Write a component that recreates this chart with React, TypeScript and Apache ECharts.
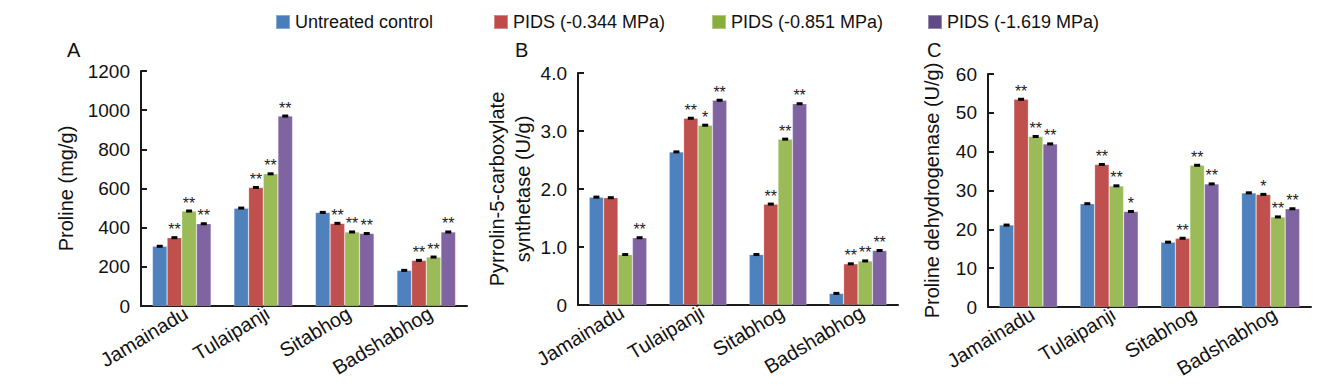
import React, { useEffect, useRef } from "react";
import * as echarts from "echarts";

const categories = ["Jamainadu", "Tulaipanji", "Sitabhog", "Badshabhog"];
const seriesNames = ["Untreated control", "PIDS (-0.344 MPa)", "PIDS (-0.851 MPa)", "PIDS (-1.619 MPa)"];
const colors = ["#4F81BD", "#C0504D", "#9BBB59", "#8064A2"];
const legendColors = ["#4A7EBB", "#BE4B48", "#8AAE3C", "#5F4A86"];

// Panel A: Proline (mg/g)
const prolineControl = [305, 500, 478, 182];
const proline344 = [349, 605, 422, 233];
const proline851 = [485, 675, 378, 250];
const proline1619 = [420, 970, 370, 378];
const prolineStars = [
  ["", "", "", ""],
  ["**", "**", "**", "**"],
  ["**", "**", "**", "**"],
  ["**", "**", "**", "**"],
];

// Panel B: Pyrrolin-5-carboxylate synthetase (U/g)
const p5csControl = [1.86, 2.64, 0.87, 0.2];
const p5cs344 = [1.85, 3.22, 1.74, 0.71];
const p5cs851 = [0.87, 3.1, 2.86, 0.76];
const p5cs1619 = [1.16, 3.53, 3.47, 0.94];
const p5csStars = [
  ["", "", "", ""],
  ["", "**", "**", "**"],
  ["", "*", "**", "**"],
  ["**", "**", "**", "**"],
];

// Panel C: Proline dehydrogenase (U/g)
const prodhControl = [21.1, 26.6, 16.7, 29.4];
const prodh344 = [53.5, 36.7, 17.7, 29.0];
const prodh851 = [43.9, 31.2, 36.5, 23.2];
const prodh1619 = [42.0, 24.6, 31.7, 25.3];
const prodhStars = [
  ["", "", "", ""],
  ["**", "**", "**", "*"],
  ["**", "**", "**", "**"],
  ["**", "*", "**", "**"],
];

const FONT = "Liberation Sans, Arial, sans-serif";
const GAP = 0.28;

const panels = [
  {
    letter: "A",
    letterX: 67,
    data: [prolineControl, proline344, proline851, proline1619],
    stars: prolineStars,
    grid: { left: 141, top: 71, width: 326, height: 235 },
    y: { max: 1200, interval: 200, name: "Proline (mg/g)", nameGap: 62 },
    fmt: (v: number) => String(v),
  },
  {
    letter: "B",
    letterX: 515,
    data: [p5csControl, p5cs344, p5cs851, p5cs1619],
    stars: p5csStars,
    grid: { left: 578, top: 73, width: 320, height: 232 },
    y: { max: 4, interval: 1, name: "Pyrrolin-5-carboxylate\nsynthetase (U/g)", nameGap: 42 },
    fmt: (v: number) => (v === 0 ? "0" : v.toFixed(1)),
  },
  {
    letter: "C",
    letterX: 927,
    data: [prodhControl, prodh344, prodh851, prodh1619],
    stars: prodhStars,
    grid: { left: 988, top: 74, width: 323, height: 233 },
    y: { max: 60, interval: 10, name: "Proline dehydrogenase (U/g)", nameGap: 43 },
    fmt: (v: number) => String(v),
  },
];

const legendX = [275, 493, 711, 927];

export default function App() {
  const ref = useRef<HTMLDivElement>(null);
  useEffect(() => {
    document.body.style.margin = "0";
    const chart = echarts.init(ref.current!, null, { renderer: "svg" });
    const axisLine = { show: true, lineStyle: { color: "#1a1a1a", width: 2 } };
    const grids: any[] = [];
    const xAxes: any[] = [];
    const yAxes: any[] = [];
    const series: any[] = [];
    const titles: any[] = [];

    panels.forEach((p, pi) => {
      grids.push({ ...p.grid, containLabel: false });
      titles.push({
        text: p.letter,
        left: p.letterX,
        top: 40,
        padding: 0,
        textStyle: { fontFamily: FONT, fontSize: 20, fontWeight: "normal", color: "#111" },
      });
      xAxes.push({
        type: "category",
        gridIndex: pi,
        data: categories,
        axisLine,
        axisTick: { show: false },
        axisLabel: {
          rotate: 31,
          margin: 8,
          padding: [0, -5, 0, 0],
          fontFamily: FONT,
          fontSize: 20,
          color: "#111",
        },
      });
      yAxes.push({
        type: "value",
        gridIndex: pi,
        min: 0,
        max: p.y.max,
        interval: p.y.interval,
        name: p.y.name,
        nameLocation: "middle",
        nameRotate: 90,
        nameGap: p.y.nameGap,
        nameTextStyle: { fontFamily: FONT, fontSize: 20, color: "#111", lineHeight: 26 },
        axisLine,
        axisTick: { show: true, inside: true, length: 6, lineStyle: { color: "#1a1a1a", width: 2 } },
        splitLine: { show: false },
        axisLabel: { margin: 11, fontFamily: FONT, fontSize: 19, color: "#111", formatter: p.fmt },
      });
      p.data.forEach((vals, si) => {
        series.push({
          type: "bar",
          name: seriesNames[si],
          xAxisIndex: pi,
          yAxisIndex: pi,
          data: vals,
          barGap: "0%",
          barCategoryGap: GAP * 100 + "%",
          itemStyle: { color: colors[si], borderColor: "rgba(255,255,255,0.35)", borderWidth: 0.6 },
          label: {
            show: true,
            position: "top",
            distance: 0,
            fontFamily: FONT,
            fontSize: 16,
            color: "#222",
            formatter: (prm: any) => p.stars[si][prm.dataIndex],
          },
          z: 2,
        });
      });
      p.data.forEach((vals, si) => {
        series.push({
          type: "custom",
          name: seriesNames[si] + " err",
          xAxisIndex: pi,
          yAxisIndex: pi,
          data: vals.map((v, i) => [i, v]),
          z: 5,
          silent: true,
          renderItem: (params: any, api: any) => {
            const cat = api.value(0);
            const val = api.value(1);
            const pt = api.coord([cat, val]);
            const band = api.size([1, 0])[0];
            const bw = (band * (1 - GAP)) / 4;
            const x = pt[0] - (band * (1 - GAP)) / 2 + bw * (si + 0.5);
            return {
              type: "rect",
              shape: { x: x - 3, y: pt[1] - 1.5, width: 6, height: 3 },
              style: { fill: "#000" },
            };
          },
        });
      });
    });

    const legends = seriesNames.map((n, i) => ({
      data: [{ name: n, itemStyle: { color: legendColors[i] } }],
      left: legendX[i],
      top: 13,
      padding: 0,
      itemWidth: 14,
      itemHeight: 14,
      itemGap: 6,
      icon: "rect",
      textStyle: { fontFamily: FONT, fontSize: 18, color: "#111" },
    }));

    chart.setOption({
      animation: false,
      backgroundColor: "#fff",
      color: colors,
      title: titles,
      legend: legends,
      grid: grids,
      xAxis: xAxes,
      yAxis: yAxes,
      series,
    });
    return () => chart.dispose();
  }, []);
  return <div ref={ref} style={{ width: 1343, height: 390 }} />;
}
